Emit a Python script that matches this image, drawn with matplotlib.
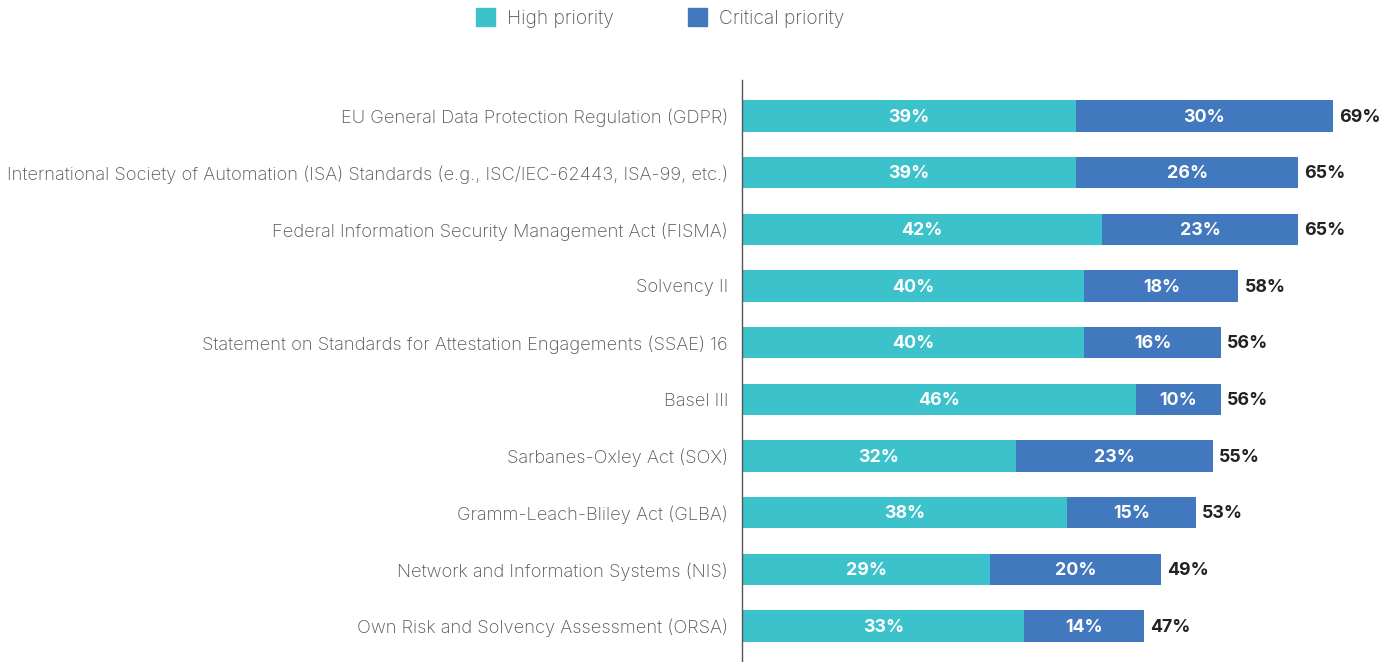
import numpy as np
import matplotlib.pyplot as plt
from matplotlib.patches import Patch

plt.rcParams['font.family'] = ['Inter', 'DejaVu Sans']

categories = [
    "EU General Data Protection Regulation (GDPR)",
    "International Society of Automation (ISA) Standards (e.g., ISC/IEC-62443, ISA-99, etc.)",
    "Federal Information Security Management Act (FISMA)",
    "Solvency II",
    "Statement on Standards for Attestation Engagements (SSAE) 16",
    "Basel III",
    "Sarbanes-Oxley Act (SOX)",
    "Gramm-Leach-Bliley Act (GLBA)",
    "Network and Information Systems (NIS)",
    "Own Risk and Solvency Assessment (ORSA)",
]
high = [39, 39, 42, 40, 40, 46, 32, 38, 29, 33]
critical = [30, 26, 23, 18, 16, 10, 23, 15, 20, 14]
totals = [69, 65, 65, 58, 56, 56, 55, 53, 49, 47]

teal = '#3BC2CB'
blue = '#4278BE'

fig = plt.figure(figsize=(13.92, 6.62), dpi=100)
ax = fig.add_axes([742 / 1392, 0, 642 / 1392, 1 - 80 / 662])

y = np.arange(len(categories))
ax.barh(y, high, height=0.55, color=teal, label='High priority')
ax.barh(y, critical, left=high, height=0.55, color=blue, label='Critical priority')

for i in range(len(categories)):
    ax.text(high[i] / 2, y[i] + 0.02, f"{high[i]}%", ha='center', va='center',
            color='white', fontsize=12.8, fontweight='bold')
    ax.text(high[i] + critical[i] / 2, y[i] + 0.02, f"{critical[i]}%", ha='center',
            va='center', color='white', fontsize=12.8, fontweight='bold')
    ax.text(high[i] + critical[i] + 0.7, y[i] + 0.02, f"{totals[i]}%", ha='left',
            va='center', color='#222222', fontsize=12.8, fontweight='bold')

ax.set_xlim(0, 75)
ax.set_ylim(len(categories) - 0.365, -0.635)
ax.set_yticks(y)
ax.set_yticklabels(categories, fontsize=13.2, color='#555555', fontweight='light')
ax.tick_params(axis='y', length=0, pad=10)
ax.set_xticks([])
for s in ['top', 'right', 'bottom']:
    ax.spines[s].set_visible(False)
ax.spines['left'].set_color('#555555')
ax.spines['left'].set_linewidth(1)

handles = [Patch(color=teal, label='High priority'),
           Patch(color=blue, label='Critical priority')]
fig.legend(handles=handles, loc='center', bbox_to_anchor=(660 / 1392, 1 - 18 / 662),
           ncol=2, frameon=False, handlelength=1.0, handleheight=1.0,
           columnspacing=3.9, handletextpad=0.6, labelcolor='#555555',
           prop={'size': 13.8, 'weight': 'light'})

fig.savefig('out.png', dpi=100)
